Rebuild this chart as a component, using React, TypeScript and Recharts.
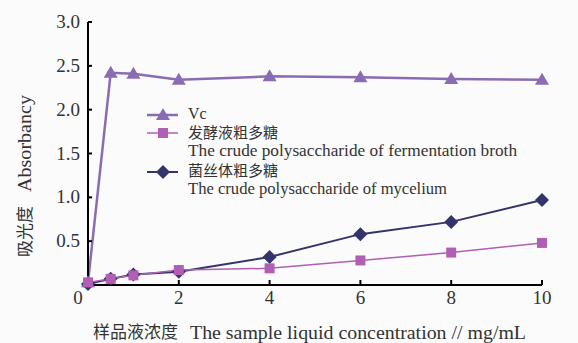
import { LineChart, Line, XAxis, YAxis } from "recharts";

const concentrations = [0, 0.5, 1, 2, 4, 6, 8, 10];
const vcValues = [0.03, 2.42, 2.41, 2.34, 2.38, 2.37, 2.35, 2.34];
const fermentationValues = [0.03, 0.07, 0.11, 0.17, 0.19, 0.28, 0.37, 0.48];
const myceliumValues = [0.01, 0.07, 0.12, 0.15, 0.32, 0.58, 0.72, 0.97];
const xTicks = [0, 2, 4, 6, 8, 10];
const yTicks = [0, 0.5, 1, 1.5, 2, 2.5, 3];

const VC_COLOR = "#8a6cb3";
const FERM_COLOR = "#b05fb5";
const MYC_COLOR = "#34346c";
const SERIF = { fontFamily: "Liberation Serif, Times New Roman, Tinos, DejaVu Serif, serif" };
const CJK = { fontFamily: "Noto Sans CJK SC, sans-serif" };

const data = concentrations.map((x, i) => ({
  x,
  vc: vcValues[i],
  fermentation: fermentationValues[i],
  mycelium: myceliumValues[i],
}));

function Triangle({ cx, cy, fill }: any) {
  if (cx == null || cy == null) return null;
  return <polygon points={`${cx},${cy - 7} ${cx - 7},${cy + 5} ${cx + 7},${cy + 5}`} fill={fill} />;
}

function Square({ cx, cy, fill }: any) {
  if (cx == null || cy == null) return null;
  return <rect x={cx - 5} y={cy - 5} width={10} height={10} fill={fill} />;
}

function Diamond({ cx, cy, fill }: any) {
  if (cx == null || cy == null) return null;
  return <polygon points={`${cx},${cy - 7} ${cx + 7},${cy} ${cx},${cy + 7} ${cx - 7},${cy}`} fill={fill} />;
}

function YTick({ x, y, payload }: any) {
  const v = payload.value;
  if (v === 0) return null;
  return (
    <g>
      <line x1={x + 8} y1={y} x2={x + 12} y2={y} stroke="#000" strokeWidth={2} />
      <text x={x} y={y + 6} textAnchor="end" style={SERIF} fontSize={19} fill="#333">
        {v.toFixed(1)}
      </text>
    </g>
  );
}

function XTick({ x, y, payload }: any) {
  const v = payload.value;
  return (
    <g>
      {v !== 0 && <line x1={x} y1={y - 4} x2={x} y2={y - 9} stroke="#000" strokeWidth={2} />}
      <text x={v === 0 ? x - 10 : x} y={y + 15} textAnchor="middle" style={SERIF} fontSize={19} fill="#333">
        {v}
      </text>
    </g>
  );
}

export default function App() {
  return (
    <div style={{ position: "absolute", left: 0, top: 0, width: 578, height: 343, background: "#fbfbfb" }}>
      <LineChart width={578} height={343} data={data} margin={{ top: 22, right: 36, bottom: 28, left: 0 }}>
        <XAxis
          dataKey="x"
          type="number"
          domain={[0, 10]}
          ticks={xTicks}
          tick={<XTick />}
          tickLine={false}
          tickSize={0}
          tickMargin={4}
          height={30}
          axisLine={{ stroke: "#000", strokeWidth: 2 }}
        />
        <YAxis
          type="number"
          domain={[0, 3]}
          ticks={yTicks}
          tick={<YTick />}
          tickLine={false}
          tickSize={0}
          tickMargin={8}
          width={88}
          axisLine={{ stroke: "#000", strokeWidth: 2 }}
        />
        <Line dataKey="vc" stroke={VC_COLOR} strokeWidth={2.5} dot={<Triangle fill={VC_COLOR} />} isAnimationActive={false} />
        <Line dataKey="mycelium" stroke={MYC_COLOR} strokeWidth={2} dot={<Diamond fill={MYC_COLOR} />} isAnimationActive={false} />
        <Line dataKey="fermentation" stroke={FERM_COLOR} strokeWidth={1.5} dot={<Square fill={FERM_COLOR} />} isAnimationActive={false} />
      </LineChart>

      <svg width={578} height={343} style={{ position: "absolute", left: 0, top: 0, pointerEvents: "none" }}>
        {/* legend */}
        <line x1={147} y1={115} x2={178} y2={115} stroke={VC_COLOR} strokeWidth={2.5} />
        <Triangle cx={163} cy={115} fill={VC_COLOR} />
        <text x={188} y={119} style={SERIF} fontSize={16} fill="#333">Vc</text>

        <line x1={147} y1={133} x2={178} y2={133} stroke={FERM_COLOR} strokeWidth={1.5} />
        <Square cx={163} cy={133} fill={FERM_COLOR} />
        <text x={188} y={138} style={CJK} fontSize={15} fill="#333">发酵液粗多糖</text>
        <text x={188} y={156} style={SERIF} fontSize={16} fill="#333" textLength={329} lengthAdjust="spacingAndGlyphs">
          The crude polysaccharide of fermentation broth
        </text>

        <line x1={147} y1={172} x2={178} y2={172} stroke={MYC_COLOR} strokeWidth={2} />
        <Diamond cx={163} cy={172} fill={MYC_COLOR} />
        <text x={188} y={176} style={CJK} fontSize={15} fill="#333">菌丝体粗多糖</text>
        <text x={188} y={194} style={SERIF} fontSize={16} fill="#333" textLength={259} lengthAdjust="spacingAndGlyphs">
          The crude polysaccharide of mycelium
        </text>

        {/* axis titles */}
        <text x={93} y={338} style={CJK} fontSize={17} fill="#333">样品液浓度</text>
        <text x={190} y={339} style={SERIF} fontSize={19} fill="#333" textLength={336} lengthAdjust="spacingAndGlyphs">
          The sample liquid concentration // mg/mL
        </text>

        <g transform="translate(31, 170) rotate(-90)">
          <text x={-87} y={0} style={CJK} fontSize={17} fill="#333">吸光度</text>
          <text x={-22} y={0} style={SERIF} fontSize={19} fill="#333" textLength={97} lengthAdjust="spacingAndGlyphs">
            Absorbancy
          </text>
        </g>
      </svg>
    </div>
  );
}
